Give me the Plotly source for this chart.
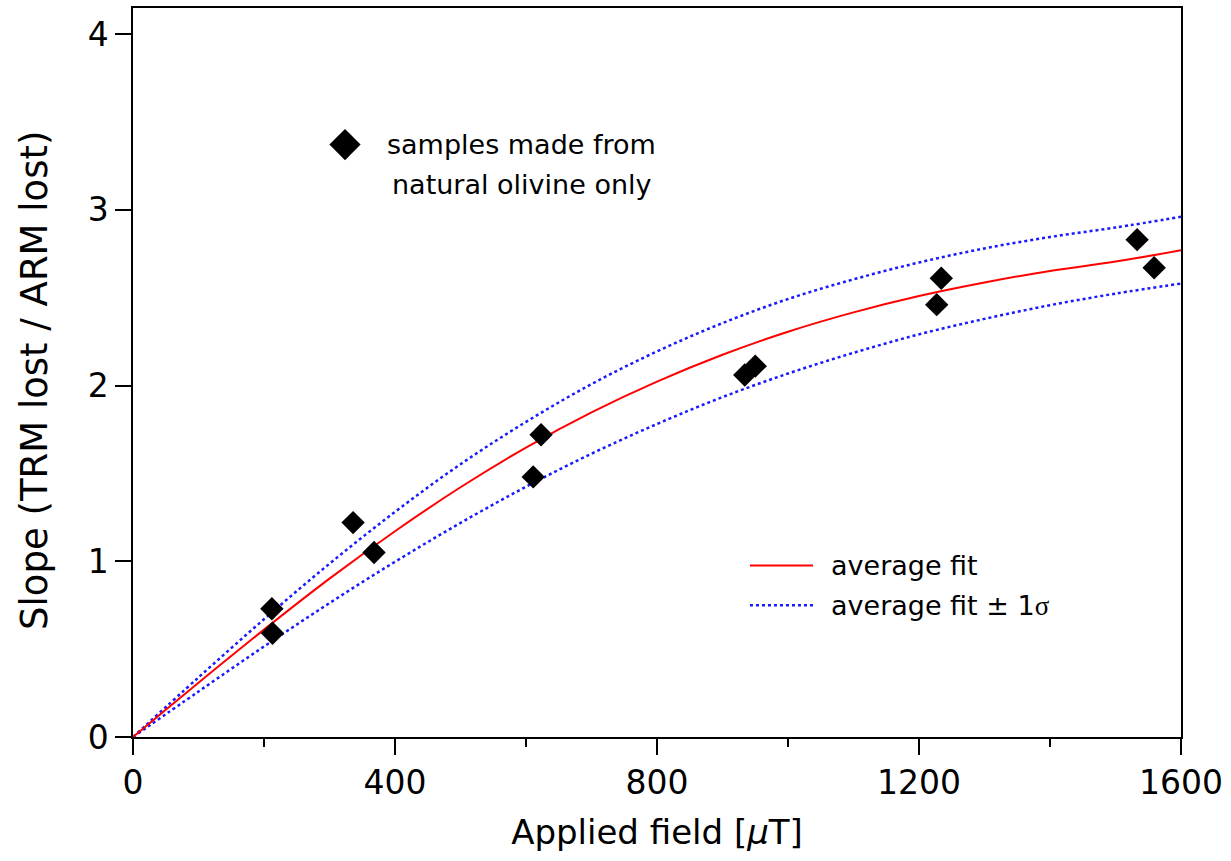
import plotly.graph_objects as go

# measured samples
field_uT = [212, 213, 336, 368, 611, 623, 934, 950, 1227, 1234, 1533, 1559]
slope = [0.73, 0.59, 1.22, 1.05, 1.48, 1.72, 2.06, 2.11, 2.46, 2.61, 2.83, 2.67]

# fit curves
fit_x = [0, 100, 200, 300, 400, 500, 600, 700, 800, 900, 1000, 1100, 1200, 1300, 1400, 1500, 1600]
fit_avg = [0, 0.309, 0.611, 0.901, 1.171, 1.421, 1.647, 1.847, 2.022, 2.175, 2.306, 2.416, 2.509, 2.586, 2.652, 2.705, 2.77]
fit_hi = [0, 0.339, 0.670, 0.986, 1.281, 1.552, 1.793, 2.008, 2.194, 2.355, 2.492, 2.604, 2.700, 2.780, 2.845, 2.899, 2.96]
fit_lo = [0, 0.259, 0.515, 0.762, 0.997, 1.218, 1.424, 1.612, 1.781, 1.934, 2.068, 2.186, 2.291, 2.379, 2.457, 2.523, 2.58]

x_ticks = [0, 400, 800, 1200, 1600]
y_ticks = [0, 1, 2, 3, 4]

FONT = "DejaVu Sans"

fig = go.Figure()
fig.add_trace(go.Scatter(x=fit_x, y=fit_hi, mode="lines", line=dict(color="#1a1aff", width=2.5, dash="dot", shape="spline"), showlegend=False))
fig.add_trace(go.Scatter(x=fit_x, y=fit_lo, mode="lines", line=dict(color="#1a1aff", width=2.5, dash="dot", shape="spline"), showlegend=False))
fig.add_trace(go.Scatter(x=fit_x, y=fit_avg, mode="lines", line=dict(color="#ff0000", width=2, shape="spline"), showlegend=False))
fig.add_trace(go.Scatter(x=field_uT, y=slope, mode="markers", marker=dict(symbol="diamond", size=18, color="black"), showlegend=False))

# legend marker for samples (top-left), on an overlay axis in fractions of the plot area
fig.add_trace(go.Scatter(x=[0.2023], y=[0.8126], mode="markers", marker=dict(symbol="diamond", size=24, color="black"),
                         showlegend=False, xaxis="x2", yaxis="y2"))

fig.update_layout(
    width=1231, height=861,
    margin=dict(l=133, r=50, t=6, b=124),
    paper_bgcolor="white", plot_bgcolor="white",
    font=dict(family=FONT, color="black"),
    xaxis=dict(range=[0, 1600], tickvals=x_ticks, ticks="outside", ticklen=16, tickwidth=1.5, tickcolor="black",
               showline=True, linecolor="black", linewidth=1.5, mirror=True, showgrid=False, zeroline=False,
               tickfont=dict(size=33, family=FONT),
               minor=dict(tickvals=[200, 600, 1000, 1400], ticks="outside", ticklen=8, tickwidth=1.5, tickcolor="black"),
               title=dict(text="Applied field [<i>µ</i>T]", font=dict(size=34, family=FONT), standoff=19)),
    yaxis=dict(range=[0, 4.148], tickvals=y_ticks, ticks="outside", ticklen=16, tickwidth=1.5, tickcolor="black",
               showline=True, linecolor="black", linewidth=1.5, mirror=True, showgrid=False, zeroline=False,
               tickfont=dict(size=33, family=FONT)),
    xaxis2=dict(range=[0, 1], visible=False, overlaying="x", anchor="y2"),
    yaxis2=dict(range=[0, 1], visible=False, overlaying="y", anchor="x2"),
)

# y-axis title as rotated annotation
fig.add_annotation(xref="paper", yref="paper", x=-0.0935, y=0.4884, text="Slope (TRM lost / ARM lost)",
                   textangle=-90, showarrow=False, xanchor="center", yanchor="middle",
                   font=dict(size=37, family=FONT))

# legend entries for lines (drawn as shapes + annotations in plot-area fractions)
fig.add_shape(type="line", xref="paper", yref="paper", x0=0.5887, x1=0.6489, y0=0.2353, y1=0.2353,
              line=dict(color="#ff0000", width=2))
fig.add_shape(type="line", xref="paper", yref="paper", x0=0.5887, x1=0.6489, y0=0.1806, y1=0.1806,
              line=dict(color="#1a1aff", width=2.5, dash="dot"))
fig.add_annotation(xref="paper", yref="paper", x=0.664, y=0.2353, text="average fit", showarrow=False,
                   xanchor="left", yanchor="middle", font=dict(size=27, family=FONT))
fig.add_annotation(xref="paper", yref="paper", x=0.664, y=0.1806,
                   text="average fit ± 1<span style=\"font-family:'Liberation Serif'\">σ</span>", showarrow=False,
                   xanchor="left", yanchor="middle", font=dict(size=27, family=FONT))
fig.add_annotation(xref="paper", yref="paper", x=0.371, y=0.8126, text="samples made from",
                   showarrow=False, xanchor="center", yanchor="middle", font=dict(size=27, family=FONT))
fig.add_annotation(xref="paper", yref="paper", x=0.371, y=0.7579, text="natural olivine only",
                   showarrow=False, xanchor="center", yanchor="middle", font=dict(size=27, family=FONT))

fig.write_html("out.html")
